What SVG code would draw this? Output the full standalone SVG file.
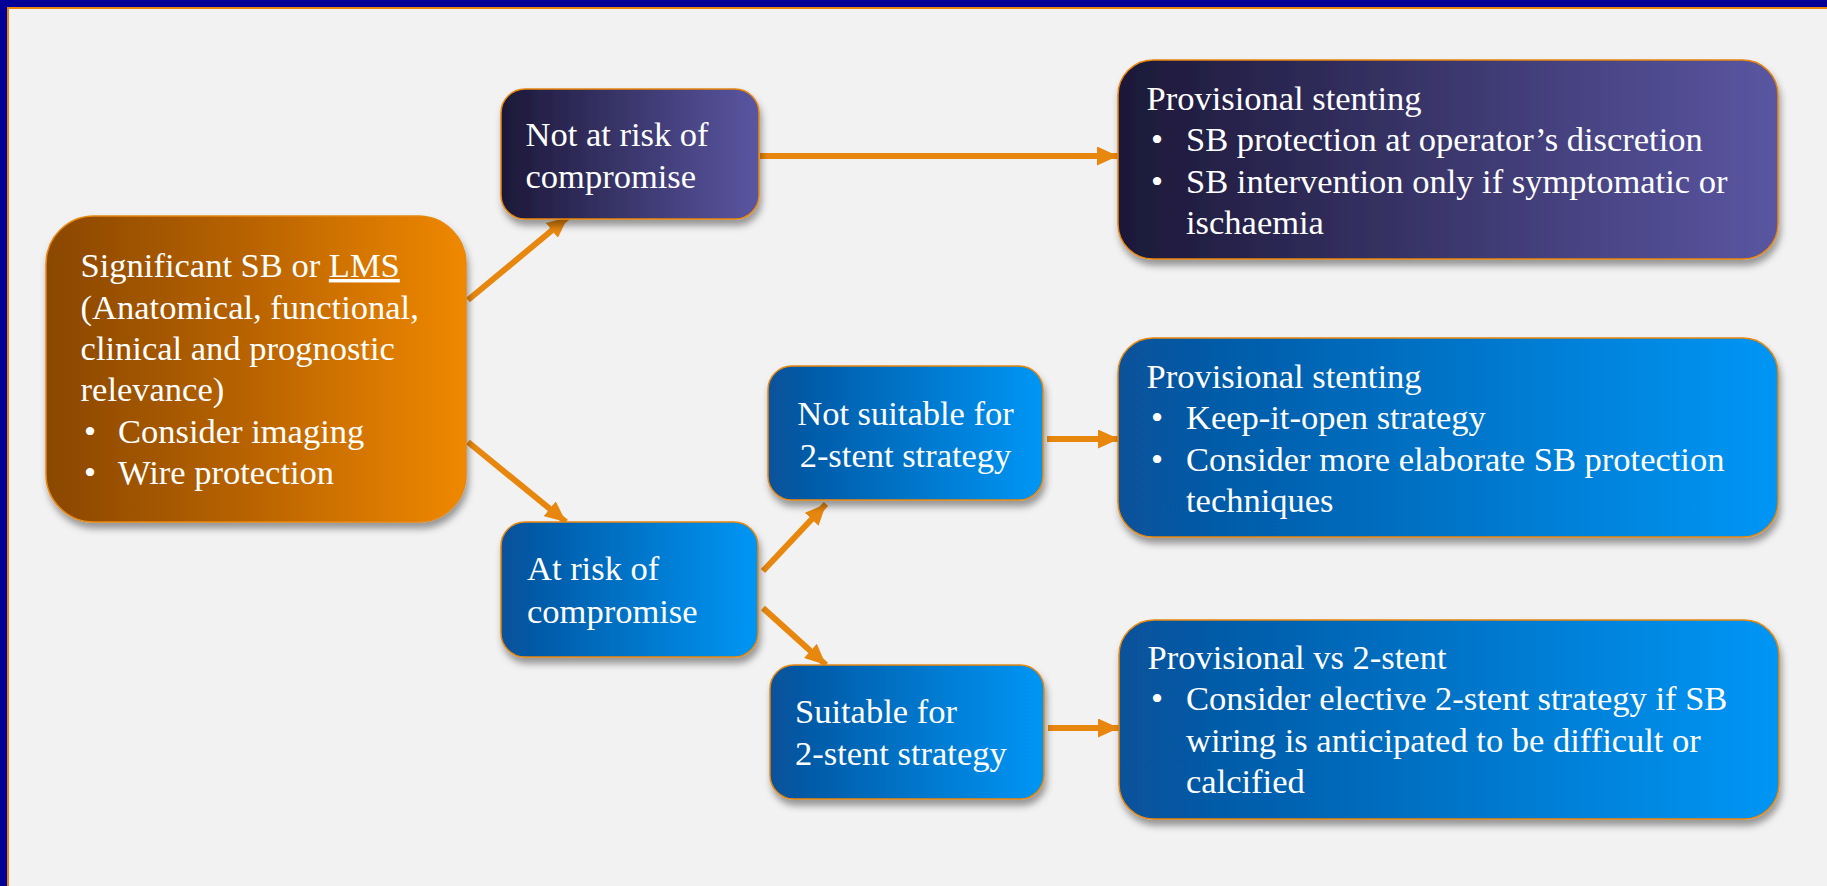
<svg xmlns="http://www.w3.org/2000/svg" width="1827" height="886" viewBox="0 0 1827 886">
<defs>
<linearGradient id="gOrange" x1="0" y1="0" x2="1" y2="0">
<stop offset="0" stop-color="#8A4700"/>
<stop offset="0.5" stop-color="#BA6400"/>
<stop offset="1" stop-color="#F08800"/>
</linearGradient>
<linearGradient id="gPurple" x1="0" y1="0" x2="1" y2="0">
<stop offset="0" stop-color="#1C1838"/>
<stop offset="1" stop-color="#5A56A2"/>
</linearGradient>
<linearGradient id="gBlue" x1="0" y1="0" x2="1" y2="0">
<stop offset="0" stop-color="#07519A"/>
<stop offset="1" stop-color="#0096F5"/>
</linearGradient>
<filter id="shadow" x="-10%" y="-10%" width="125%" height="130%">
<feDropShadow dx="2" dy="6" stdDeviation="3.5" flood-color="#000" flood-opacity="0.38"/>
</filter>
<marker id="arrow" viewBox="0 0 21 19" refX="21" refY="9.5" markerWidth="21" markerHeight="19" markerUnits="userSpaceOnUse" orient="auto">
<path d="M0,0 L21,9.5 L0,19 Z" fill="#E8870E"/>
</marker>
</defs>
<style>
.box { stroke: #E8870E; stroke-width: 1.5; filter: url(#shadow); }
.t { font-family: "Liberation Serif", "Times New Roman", serif; font-size: 34.5px; fill: #FFFFFF; }
.conn { stroke: #E8870E; stroke-width: 6; fill: none; marker-end: url(#arrow); }
</style>
<rect x="0" y="0" width="1827" height="886" fill="#F2F2F2"/>
<rect x="0" y="0" width="1827" height="7" fill="#000099"/>
<rect x="0" y="0" width="7" height="886" fill="#000099"/>
<path d="M8,886 L8,8 L1827,8" stroke="#E8870E" stroke-width="2" fill="none"/>

<g id="connectors">
<line class="conn" x1="468" y1="300" x2="568" y2="217"/>
<line class="conn" x1="468" y1="442" x2="566" y2="522"/>
<line class="conn" x1="763" y1="571" x2="826" y2="504"/>
<line class="conn" x1="763" y1="608" x2="826" y2="665"/>
<line class="conn" x1="760" y1="156" x2="1118" y2="156"/>
<line class="conn" x1="1047" y1="439" x2="1119" y2="439"/>
<line class="conn" x1="1048" y1="728" x2="1119" y2="728"/>
</g>

<g id="main">
<rect class="box" x="46" y="216" width="420" height="306" rx="48" fill="url(#gOrange)"/>
<text class="t" x="80.6" y="277">Significant SB or <tspan text-decoration="underline">LMS</tspan></text>
<text class="t" x="80.6" y="318.5">(Anatomical, functional,</text>
<text class="t" x="80.6" y="360">clinical and prognostic</text>
<text class="t" x="80.6" y="401">relevance)</text>
<text class="t" x="84" y="442.5">•</text>
<text class="t" x="118" y="442.5">Consider imaging</text>
<text class="t" x="84" y="484">•</text>
<text class="t" x="118" y="484">Wire protection</text>
</g>

<g id="not-at-risk">
<rect class="box" x="501" y="89" width="258" height="130" rx="24" fill="url(#gPurple)"/>
<text class="t" x="525.5" y="146.3">Not at risk of</text>
<text class="t" x="525.5" y="187.7">compromise</text>
</g>

<g id="at-risk">
<rect class="box" x="501" y="522" width="257" height="135" rx="24" fill="url(#gBlue)"/>
<text class="t" x="527" y="580">At risk of</text>
<text class="t" x="527" y="622.7">compromise</text>
</g>

<g id="not-suitable">
<rect class="box" x="768" y="366" width="275" height="134" rx="24" fill="url(#gBlue)"/>
<text class="t" x="905.5" y="425" text-anchor="middle">Not suitable for</text>
<text class="t" x="905.5" y="466.7" text-anchor="middle">2-stent strategy</text>
</g>

<g id="suitable">
<rect class="box" x="770" y="665" width="274" height="134" rx="24" fill="url(#gBlue)"/>
<text class="t" x="795" y="723">Suitable for</text>
<text class="t" x="795" y="765">2-stent strategy</text>
</g>

<g id="provisional-top">
<rect class="box" x="1118" y="60" width="660" height="199" rx="35" fill="url(#gPurple)"/>
<text class="t" x="1146.5" y="110">Provisional stenting</text>
<text class="t" x="1151" y="151.3">•</text>
<text class="t" x="1186" y="151.3">SB protection at operator’s discretion</text>
<text class="t" x="1151" y="192.6">•</text>
<text class="t" x="1186" y="192.6">SB intervention only if symptomatic or</text>
<text class="t" x="1186" y="234">ischaemia</text>
</g>

<g id="provisional-mid">
<rect class="box" x="1118" y="338" width="660" height="199" rx="35" fill="url(#gBlue)"/>
<text class="t" x="1146.5" y="388">Provisional stenting</text>
<text class="t" x="1151" y="429.3">•</text>
<text class="t" x="1186" y="429.3">Keep-it-open strategy</text>
<text class="t" x="1151" y="470.6">•</text>
<text class="t" x="1186" y="470.6">Consider more elaborate SB protection</text>
<text class="t" x="1186" y="512">techniques</text>
</g>

<g id="provisional-bottom">
<rect class="box" x="1119" y="620" width="660" height="199" rx="35" fill="url(#gBlue)"/>
<text class="t" x="1147.5" y="669">Provisional vs 2-stent</text>
<text class="t" x="1151" y="710">•</text>
<text class="t" x="1186" y="710">Consider elective 2-stent strategy if SB</text>
<text class="t" x="1186" y="752">wiring is anticipated to be difficult or</text>
<text class="t" x="1186" y="793">calcified</text>
</g>
</svg>
